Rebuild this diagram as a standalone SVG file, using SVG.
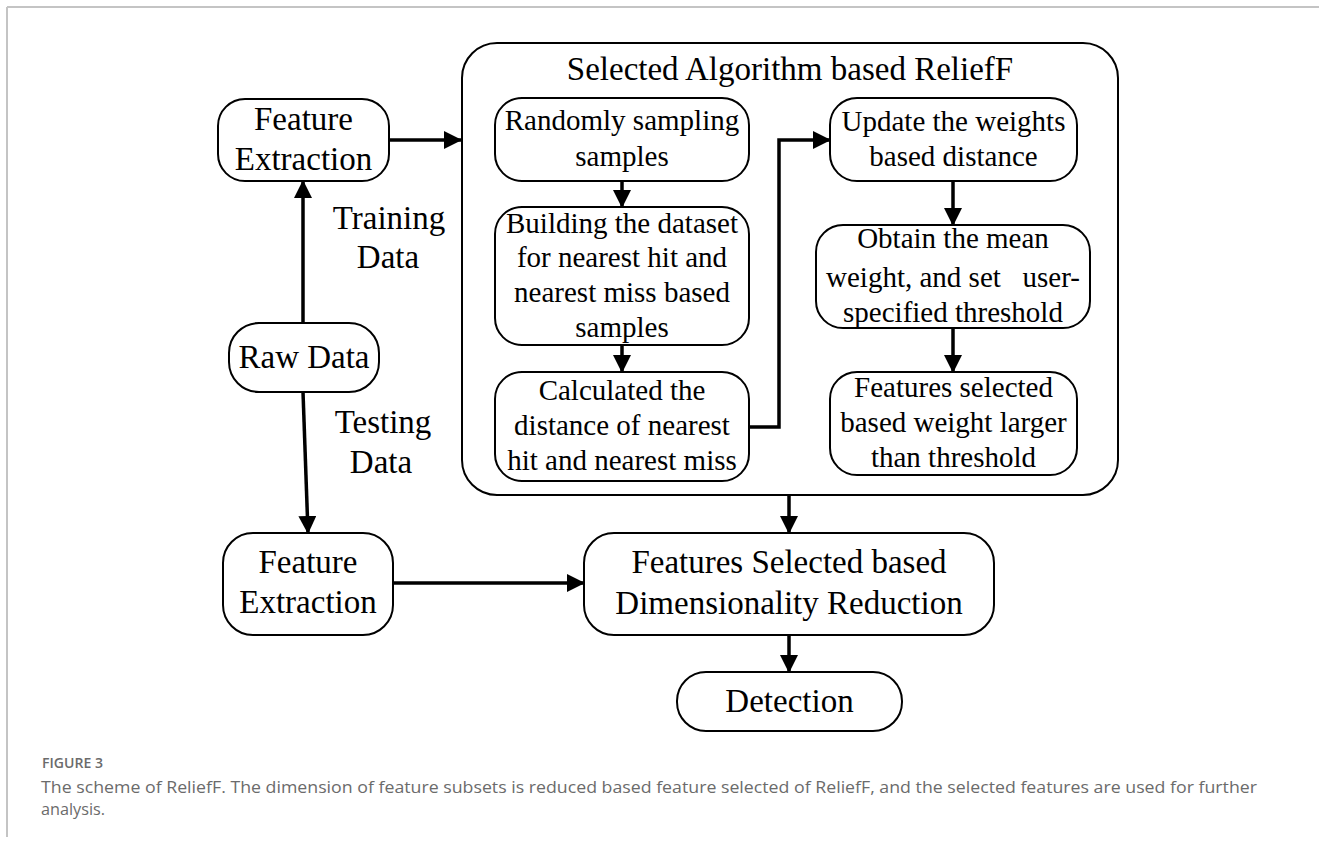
<svg xmlns="http://www.w3.org/2000/svg" width="1319" height="845" viewBox="0 0 1319 845">
  <defs>
    <marker id="arrow" markerUnits="userSpaceOnUse" markerWidth="18" markerHeight="18" viewBox="0 0 18 18" refX="17" refY="9" orient="auto">
      <path d="M0,0 L18,9 L0,18 z" fill="#000"/>
    </marker>
    <style>
      .node { fill: #fff; stroke: #000; stroke-width: 2; }
      .frame { stroke: #c4c4c4; stroke-width: 2; fill: none; }
      .lbl { font-family: "Liberation Serif", "Times New Roman", serif; fill: #000; text-anchor: middle; }
      .big { font-size: 33px; }
      .small { font-size: 29px; }
      .conn { fill: none; stroke: #000; stroke-width: 3.5; marker-end: url(#arrow); }
      .cap { font-family: "Open Sans", "Liberation Sans", sans-serif; fill: #6b6b6b; }
    </style>
  </defs>

  <rect x="0" y="0" width="1319" height="845" fill="#fff"/>

  <!-- page frame -->
  <line class="frame" x1="7" y1="7" x2="1319" y2="7"/>
  <line class="frame" x1="7" y1="7" x2="7" y2="837"/>

  <!-- outer algorithm container -->
  <g id="relieff-block">
    <rect class="node" x="462" y="43" width="656" height="452" rx="35"/>
    <text class="lbl big" x="790" y="80">Selected Algorithm based ReliefF</text>
  </g>

  <g id="fe-train">
    <rect class="node" x="218" y="99" width="171" height="82" rx="27"/>
    <text class="lbl big" x="303.5" y="130">Feature</text>
    <text class="lbl big" x="303.5" y="170">Extraction</text>
  </g>

  <g id="raw-data">
    <rect class="node" x="229" y="323" width="150" height="69" rx="30"/>
    <text class="lbl big" x="304" y="368">Raw Data</text>
  </g>

  <g id="fe-test">
    <rect class="node" x="223" y="533" width="170" height="102" rx="30"/>
    <text class="lbl big" x="308" y="573">Feature</text>
    <text class="lbl big" x="308" y="613">Extraction</text>
  </g>

  <g id="sampling">
    <rect class="node" x="495" y="98" width="254" height="83" rx="27"/>
    <text class="lbl small" x="622" y="130">Randomly sampling</text>
    <text class="lbl small" x="622" y="166">samples</text>
  </g>

  <g id="build-dataset">
    <rect class="node" x="495" y="207" width="254" height="138" rx="27"/>
    <text class="lbl small" x="622" y="233">Building the dataset</text>
    <text class="lbl small" x="622" y="267">for nearest hit and</text>
    <text class="lbl small" x="622" y="302">nearest miss based</text>
    <text class="lbl small" x="622" y="337">samples</text>
  </g>

  <g id="calc-distance">
    <rect class="node" x="495" y="372" width="254" height="109" rx="27"/>
    <text class="lbl small" x="622" y="400">Calculated the</text>
    <text class="lbl small" x="622" y="435">distance of nearest</text>
    <text class="lbl small" x="622" y="470">hit and nearest miss</text>
  </g>

  <g id="update-weights">
    <rect class="node" x="830" y="98" width="247" height="83" rx="27"/>
    <text class="lbl small" x="953.5" y="131">Update the weights</text>
    <text class="lbl small" x="953.5" y="166">based distance</text>
  </g>

  <g id="mean-weight">
    <rect class="node" x="816" y="225" width="274" height="103" rx="27"/>
    <text class="lbl small" x="953" y="248">Obtain the mean</text>
    <text class="lbl small" x="953" y="287" style="white-space:pre">weight, and set   user-</text>
    <text class="lbl small" x="953" y="322">specified threshold</text>
  </g>

  <g id="select-features">
    <rect class="node" x="830" y="372" width="247" height="103" rx="27"/>
    <text class="lbl small" x="953.5" y="397">Features selected</text>
    <text class="lbl small" x="953.5" y="432">based weight larger</text>
    <text class="lbl small" x="953.5" y="467">than threshold</text>
  </g>

  <g id="dim-reduction">
    <rect class="node" x="584" y="533" width="410" height="102" rx="30"/>
    <text class="lbl big" x="789" y="573">Features Selected based</text>
    <text class="lbl big" x="789" y="614">Dimensionality Reduction</text>
  </g>

  <g id="detection">
    <rect class="node" x="677" y="672" width="225" height="59" rx="29"/>
    <text class="lbl big" x="789.5" y="712">Detection</text>
  </g>

  <!-- connectors -->
  <g id="connectors">
    <line class="conn" x1="389" y1="140" x2="461" y2="140"/>
    <line class="conn" x1="303" y1="323" x2="303" y2="181"/>
    <line class="conn" x1="303" y1="392" x2="308" y2="533"/>
    <line class="conn" x1="393" y1="583" x2="584" y2="583"/>
    <line class="conn" x1="789" y1="495" x2="789" y2="533"/>
    <line class="conn" x1="789" y1="635" x2="789" y2="672"/>
    <line class="conn" x1="622" y1="181" x2="622" y2="207"/>
    <line class="conn" x1="622" y1="345" x2="622" y2="372"/>
    <polyline class="conn" points="749,427 779,427 779,140 830,140"/>
    <line class="conn" x1="953" y1="181" x2="953" y2="225"/>
    <line class="conn" x1="953" y1="328" x2="953" y2="372"/>
  </g>

  <!-- edge labels -->
  <g id="edge-labels">
    <text class="lbl big" x="389" y="229">Training</text>
    <text class="lbl big" x="388" y="268">Data</text>
    <text class="lbl big" x="383" y="433">Testing</text>
    <text class="lbl big" x="381" y="473">Data</text>
  </g>

  <!-- caption -->
  <g id="caption">
    <text class="cap" x="42" y="768" font-size="14" font-weight="600" textLength="61" lengthAdjust="spacingAndGlyphs">FIGURE 3</text>
    <text class="cap" x="41" y="793" font-size="17" textLength="1216" lengthAdjust="spacingAndGlyphs">The scheme of ReliefF. The dimension of feature subsets is reduced based feature selected of ReliefF, and the selected features are used for further</text>
    <text class="cap" x="41" y="815" font-size="17" textLength="64" lengthAdjust="spacingAndGlyphs">analysis.</text>
  </g>
</svg>
